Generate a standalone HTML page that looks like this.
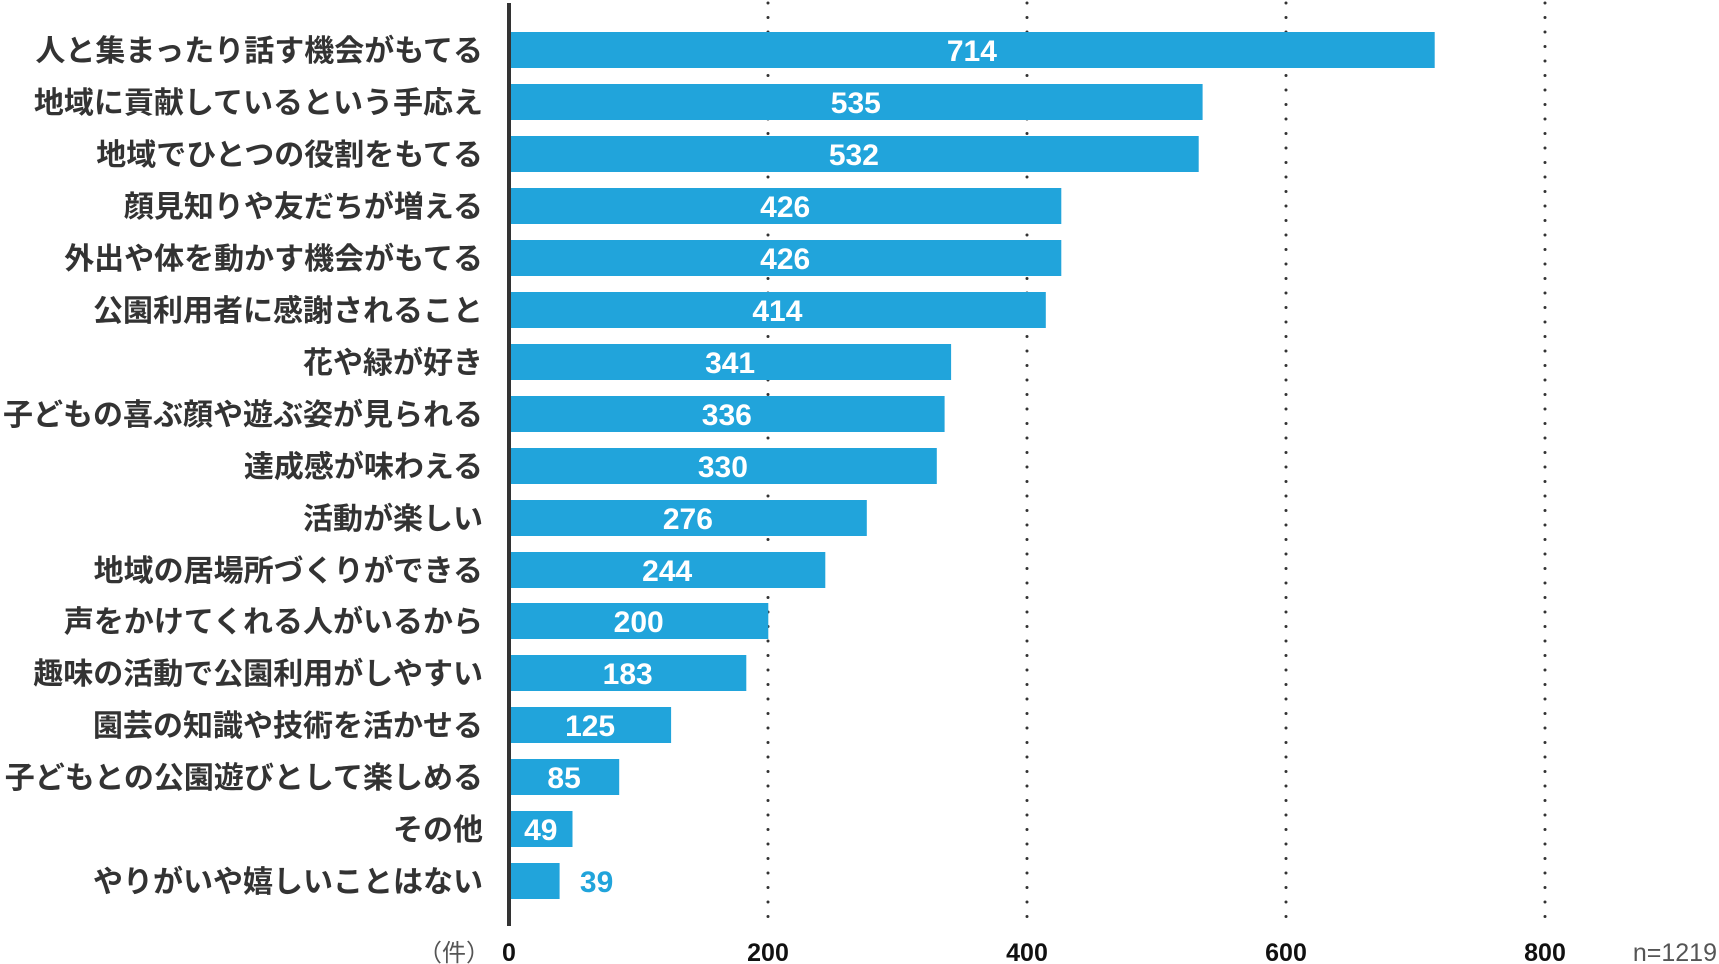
<!DOCTYPE html>
<html><head><meta charset="utf-8"><style>
html,body{margin:0;padding:0;background:#fff;}
svg{display:block;}
.l{font-family:"Liberation Sans","Noto Sans CJK JP",sans-serif;font-weight:bold;font-size:30px;fill:#333;text-anchor:end;}
.v{font-family:"Liberation Sans",sans-serif;font-weight:bold;font-size:30px;fill:#fff;text-anchor:middle;}
.t{font-family:"Liberation Sans",sans-serif;font-weight:bold;font-size:25px;fill:#111;text-anchor:middle;}
</style></head><body>
<svg width="1719" height="964" xmlns="http://www.w3.org/2000/svg">
<g stroke="#333" stroke-width="3" stroke-dasharray="0 14.5" stroke-linecap="round">
<line x1="768" y1="3" x2="768" y2="926"/>
<line x1="1027" y1="3" x2="1027" y2="926"/>
<line x1="1286" y1="3" x2="1286" y2="926"/>
<line x1="1545" y1="3" x2="1545" y2="926"/>
</g>
<g fill="#21a4db">
<rect x="509" y="32" width="925.7" height="36"/>
<rect x="509" y="84" width="693.6" height="36"/>
<rect x="509" y="136" width="689.7" height="36"/>
<rect x="509" y="188" width="552.3" height="36"/>
<rect x="509" y="240" width="552.3" height="36"/>
<rect x="509" y="292" width="536.8" height="36"/>
<rect x="509" y="344" width="442.1" height="36"/>
<rect x="509" y="396" width="435.6" height="36"/>
<rect x="509" y="448" width="427.8" height="36"/>
<rect x="509" y="500" width="357.8" height="36"/>
<rect x="509" y="552" width="316.3" height="36"/>
<rect x="509" y="603" width="259.3" height="36"/>
<rect x="509" y="655" width="237.3" height="36"/>
<rect x="509" y="707" width="162.1" height="36"/>
<rect x="509" y="759" width="110.2" height="36"/>
<rect x="509" y="811" width="63.5" height="36"/>
<rect x="509" y="863" width="50.6" height="36"/>
</g>
<g>
<text class="l" x="483" y="61">人と集まったり話す機会がもてる</text>
<text class="l" x="483" y="113">地域に貢献しているという手応え</text>
<text class="l" x="483" y="165">地域でひとつの役割をもてる</text>
<text class="l" x="483" y="217">顔見知りや友だちが増える</text>
<text class="l" x="483" y="269">外出や体を動かす機会がもてる</text>
<text class="l" x="483" y="321">公園利用者に感謝されること</text>
<text class="l" x="483" y="373">花や緑が好き</text>
<text class="l" x="483" y="425">子どもの喜ぶ顔や遊ぶ姿が見られる</text>
<text class="l" x="483" y="477">達成感が味わえる</text>
<text class="l" x="483" y="529">活動が楽しい</text>
<text class="l" x="483" y="581">地域の居場所づくりができる</text>
<text class="l" x="483" y="632">声をかけてくれる人がいるから</text>
<text class="l" x="483" y="684">趣味の活動で公園利用がしやすい</text>
<text class="l" x="483" y="736">園芸の知識や技術を活かせる</text>
<text class="l" x="483" y="788">子どもとの公園遊びとして楽しめる</text>
<text class="l" x="483" y="840">その他</text>
<text class="l" x="483" y="892">やりがいや嬉しいことはない</text>
</g>
<g>
<text class="v" x="971.9" y="61">714</text>
<text class="v" x="855.8" y="113">535</text>
<text class="v" x="853.9" y="165">532</text>
<text class="v" x="785.2" y="217">426</text>
<text class="v" x="785.2" y="269">426</text>
<text class="v" x="777.4" y="321">414</text>
<text class="v" x="730.1" y="373">341</text>
<text class="v" x="726.8" y="425">336</text>
<text class="v" x="722.9" y="477">330</text>
<text class="v" x="687.9" y="529">276</text>
<text class="v" x="667.2" y="581">244</text>
<text class="v" x="638.7" y="632">200</text>
<text class="v" x="627.7" y="684">183</text>
<text class="v" x="590.1" y="736">125</text>
<text class="v" x="564.1" y="788">85</text>
<text class="v" x="540.8" y="840">49</text>
<text class="v" x="596.6" y="892" style="fill:#21a4db">39</text>
</g>
<rect x="507" y="3" width="4" height="923" fill="#333"/>
<g>
<text class="t" x="509" y="961">0</text>
<text class="t" x="768" y="961">200</text>
<text class="t" x="1027" y="961">400</text>
<text class="t" x="1286" y="961">600</text>
<text class="t" x="1545" y="961">800</text>
<text x="490" y="961" style="font-family:'Liberation Sans','Noto Sans CJK JP',sans-serif;font-size:24px;fill:#555;text-anchor:end">（件）</text>
<text x="1717" y="961" style="font-family:'Liberation Sans',sans-serif;font-size:25px;fill:#555;text-anchor:end">n=1219</text>
</g>
</svg>
</body></html>
